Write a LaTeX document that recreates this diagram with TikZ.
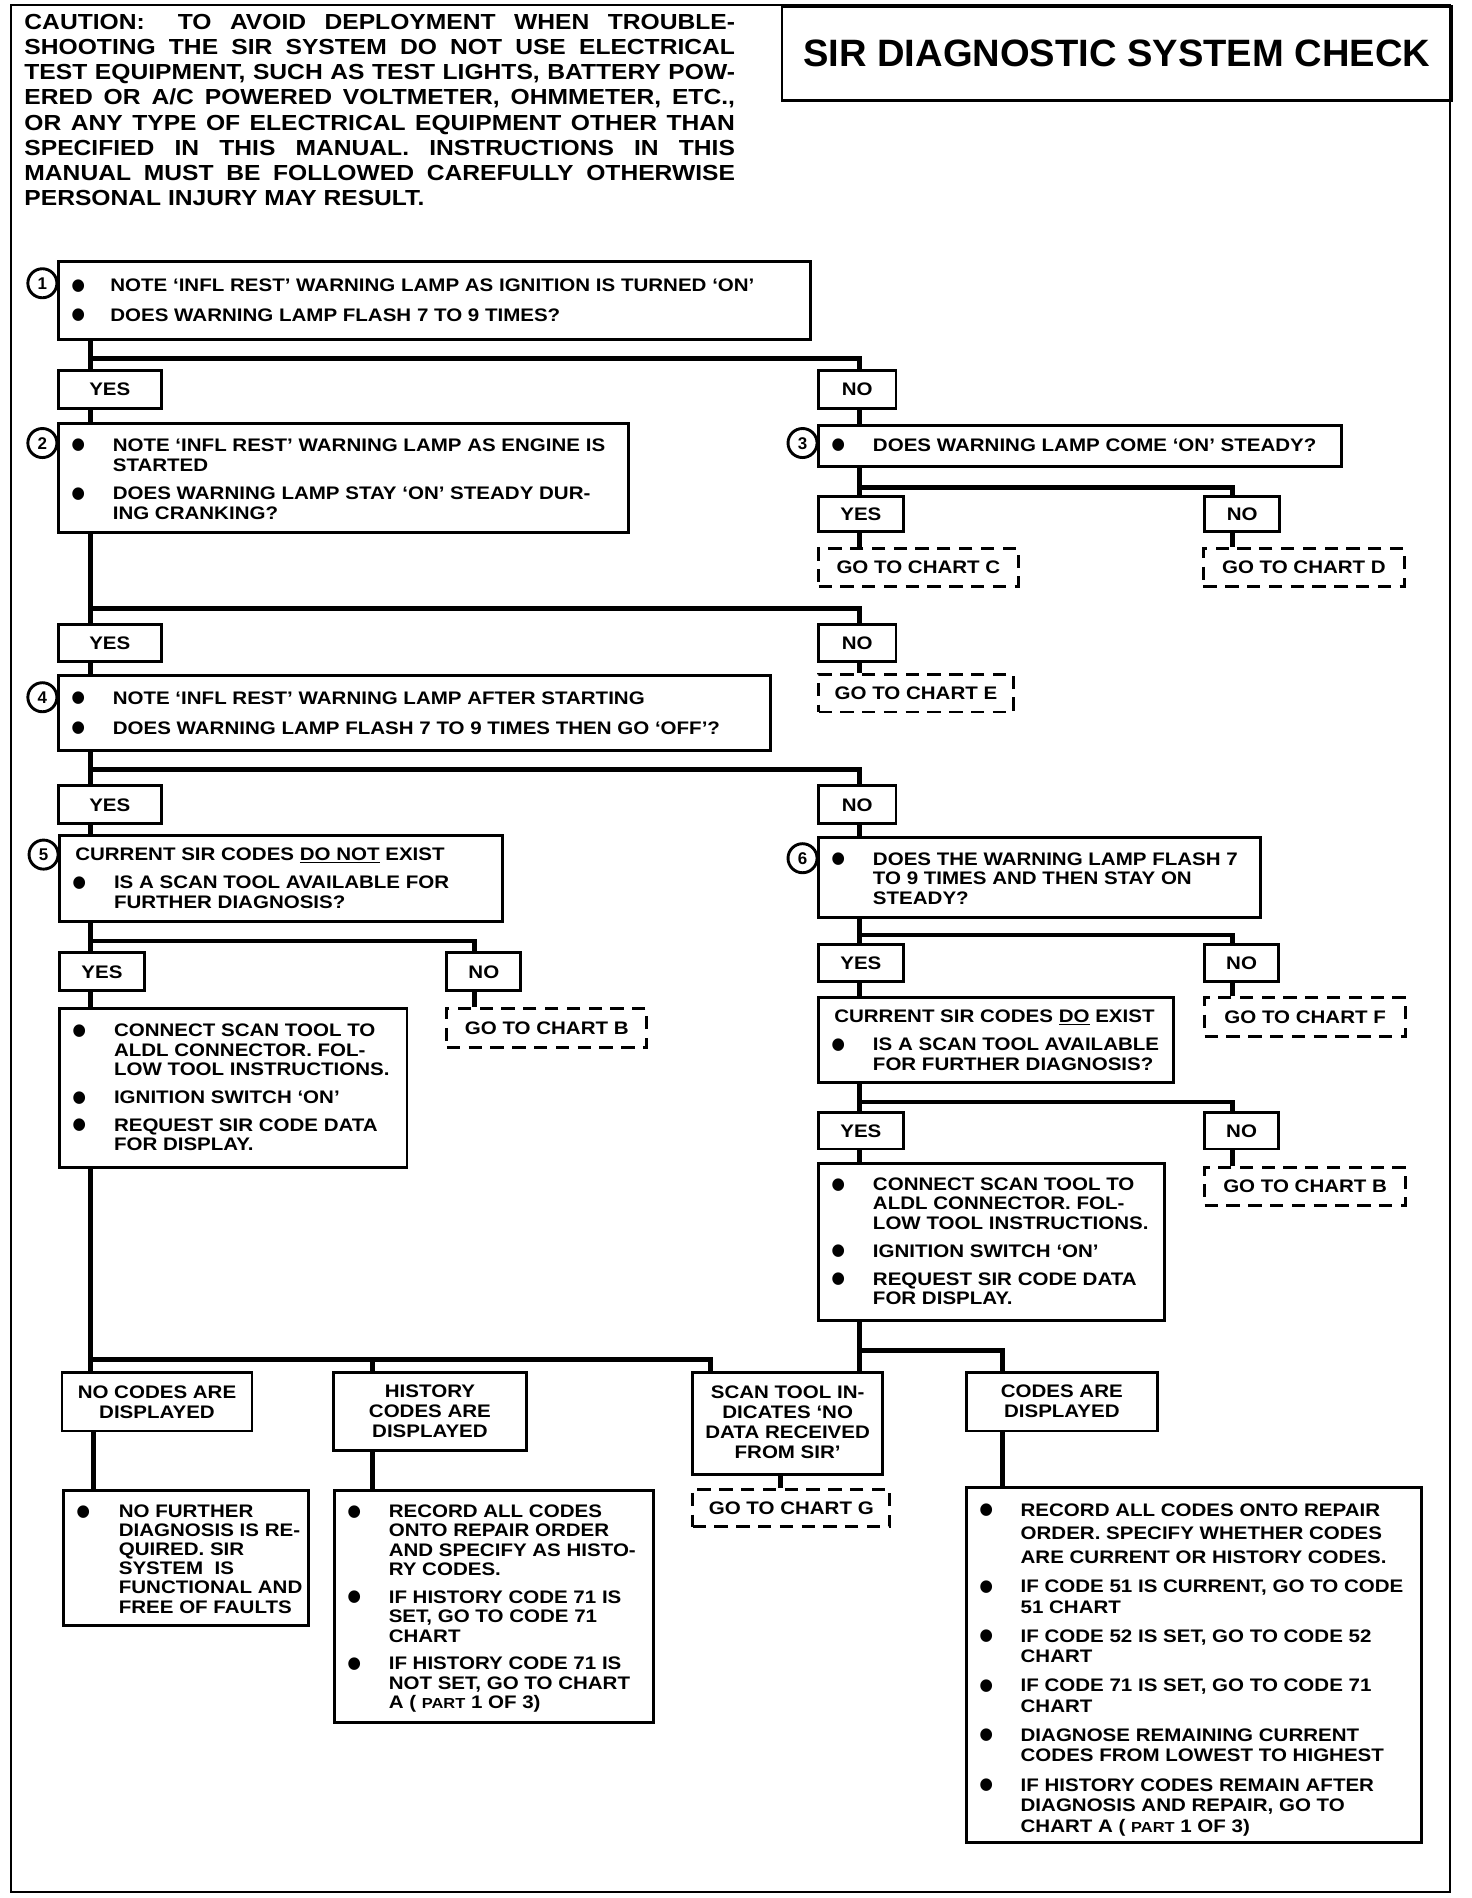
\documentclass[tikz,border=0pt]{standalone}
\usepackage{fontspec}
\newfontfamily\bxf{Liberation Sans}[FakeStretch=1.13,Ligatures=TeX]
\newfontfamily\ttlf{Liberation Sans}[Ligatures=TeX]
\usetikzlibrary{calc}
\newcommand\bxfont{\bxf\bfseries\fontsize{15}{16.5}\selectfont}
\newcommand\cautfont{\bxf\bfseries\fontsize{18}{20.7}\selectfont}
\newcommand\numfont{\ttlf\bfseries\fontsize{14}{14}\selectfont}
\newcommand\ttlfont{\ttlf\bfseries\fontsize{31.5}{34}\selectfont}
\newlength\tind \setlength\tind{45pt}
\newlength\bind \setlength\bind{11pt}
\newlength\igap \setlength\igap{7pt}
\newcommand\bul{\raisebox{-7.1pt}[0pt][0pt]{\scalebox{2.0}[2.4]{\textbullet}}}
\newcommand\bi[1]{\par\hangindent=\tind\hangafter=1\noindent\makebox[\tind][l]{\hspace{\bind}\bul\rule{0pt}{12pt}}#1\par\vspace{\igap}}
\newcommand\hd[1]{\par\noindent\hspace{13pt}\rule{0pt}{12pt}#1\par\vspace{\igap}}
\newcommand\tb[4]{\makebox[#1pt][l]{\parbox[c][#2pt][t]{1000pt}{\bxfont\vspace*{\dimexpr#3pt-12pt\relax}#4}}}
\newcommand\cb[4]{\parbox[c][#2pt][t]{#1pt}{\bxfont\centering\vspace*{\dimexpr#3pt-12pt\relax}\rule{0pt}{12pt}#4\par}}
\newcommand\partsc[1]{{\fontsize{12}{12}\selectfont #1}}
\tikzset{
  qbox/.style={draw, line width=2.4pt, inner sep=0pt, anchor=north west},
  lab/.style={draw, line width=2.4pt, inner sep=0pt, anchor=north west, font=\bxfont, text height=10.7pt, text depth=0pt},
  dbox/.style={lab, dash pattern=on 11pt off 7pt},
  conn/.style={line width=4pt},
  numc/.style={draw, circle, line width=2.4pt, minimum size=24pt, inner sep=0pt, font=\numfont, text height=10pt, text depth=0pt},
}
\begin{document}
\begin{tikzpicture}[x=1pt,y=-1pt]
\useasboundingbox (0,0) rectangle (1216,1568);
% frame
\draw[line width=2.2pt] (9,4) rectangle (1198,1563);
\node[draw, line width=2.2pt, anchor=north west, minimum width=553pt, minimum height=78pt, inner sep=0pt, font=\ttlfont, text height=22.5pt, text depth=0pt] (title) at (645,4) {SIR DIAGNOSTIC SYSTEM CHECK};
% caution
\node[anchor=north west, inner sep=0pt] (caution) at (20,5) {\parbox[t]{600pt}{\cautfont\vspace*{5.4pt}\rule{0pt}{14pt}%
\makebox[587pt][s]{CAUTION:\hspace{12pt} TO AVOID DEPLOYMENT WHEN TROUBLE-}\\
\makebox[587pt][s]{SHOOTING THE SIR SYSTEM DO NOT USE ELECTRICAL}\\
\makebox[587pt][s]{TEST EQUIPMENT, SUCH AS TEST LIGHTS, BATTERY POW-}\\
\makebox[587pt][s]{ERED OR A/C POWERED VOLTMETER, OHMMETER, ETC.,}\\
\makebox[587pt][s]{OR ANY TYPE OF ELECTRICAL EQUIPMENT OTHER THAN}\\
\makebox[587pt][s]{SPECIFIED IN THIS MANUAL. INSTRUCTIONS IN THIS}\\
\makebox[587pt][s]{MANUAL MUST BE FOLLOWED CAREFULLY OTHERWISE}\\
PERSONAL INJURY MAY RESULT.}};

% question boxes
\node[qbox] (b1) at (47,215) {\tb{621}{64}{25}{\setlength\tind{43pt}\setlength\igap{7.5pt}\bi{NOTE `INFL REST' WARNING LAMP AS IGNITION IS TURNED `ON'}\bi{DOES WARNING LAMP FLASH 7 TO 9 TIMES?}}};
\node[numc] (c1) at (35,234) {1};
\node[qbox] (b2) at (47,349) {\tb{471}{90}{22.5}{\bi{NOTE `INFL REST' WARNING LAMP AS ENGINE IS\\STARTED}\bi{DOES WARNING LAMP STAY `ON' STEADY DUR-\\ING CRANKING?}}};
\node[numc] (c2) at (35,366) {2};
\node[qbox] (b3) at (675,350) {\tb{432}{34}{21.5}{\bi{DOES WARNING LAMP COME `ON' STEADY?}}};
\node[numc] (c3) at (663,366) {3};
\node[qbox] (b4) at (47,557) {\tb{588}{62}{23.4}{\setlength\igap{8.5pt}\bi{NOTE `INFL REST' WARNING LAMP AFTER STARTING}\bi{DOES WARNING LAMP FLASH 7 TO 9 TIMES THEN GO `OFF'?}}};
\node[numc] (c4) at (35,576) {4};
\node[qbox] (b5) at (48,689) {\tb{366}{71}{20.4}{\hd{CURRENT SIR CODES \underline{DO NOT} EXIST}\bi{IS A SCAN TOOL AVAILABLE FOR\\FURTHER DIAGNOSIS?}}};
\node[numc] (c5) at (36,706) {5};
\node[qbox] (b6) at (675,691) {\tb{365}{66}{22.4}{\bi{DOES THE WARNING LAMP FLASH 7\\TO 9 TIMES AND THEN STAY ON\\STEADY?}}};
\node[numc] (c6) at (663,709) {6};
\node[qbox] (b7) at (48,832) {\tb{287}{131}{23.4}{\setlength\baselineskip{16pt}\bi{CONNECT SCAN TOOL TO\\ALDL CONNECTOR. FOL-\\LOW TOOL INSTRUCTIONS.}\bi{IGNITION SWITCH `ON'}\bi{REQUEST SIR CODE DATA\\FOR DISPLAY.}}};
\node[qbox] (b8) at (675,823) {\tb{293}{70}{20.4}{\hd{CURRENT SIR CODES \underline{DO} EXIST}\bi{IS A SCAN TOOL AVAILABLE\\FOR FURTHER DIAGNOSIS?}}};
\node[qbox] (b9) at (675,960) {\tb{286}{130}{22.4}{\setlength\baselineskip{16pt}\bi{CONNECT SCAN TOOL TO\\ALDL CONNECTOR. FOL-\\LOW TOOL INSTRUCTIONS.}\bi{IGNITION SWITCH `ON'}\bi{REQUEST SIR CODE DATA\\FOR DISPLAY.}}};

% yes / no labels
\node[lab, minimum width=85pt, minimum height=31pt] (yes1) at (47,305) {YES};
\node[lab, minimum width=64pt, minimum height=31pt] (no1) at (675,305) {NO};
\node[lab, minimum width=85pt, minimum height=30pt] (yes2) at (47,515) {YES};
\node[lab, minimum width=64pt, minimum height=30pt] (no2) at (675,515) {NO};
\node[dbox, minimum width=161pt, minimum height=31pt] (gE) at (675,556) {GO TO CHART E};
\node[lab, minimum width=70pt, minimum height=29pt] (yes3) at (675,409) {YES};
\node[lab, minimum width=62pt, minimum height=29pt] (no3) at (994,409) {NO};
\node[dbox, minimum width=165pt, minimum height=31pt] (gC) at (675,452) {GO TO CHART C};
\node[dbox, minimum width=166pt, minimum height=31pt] (gD) at (993,452) {GO TO CHART D};
\node[lab, minimum width=85pt, minimum height=31pt] (yes4) at (47,648) {YES};
\node[lab, minimum width=64pt, minimum height=31pt] (no4) at (675,648) {NO};
\node[lab, minimum width=70pt, minimum height=31pt] (yes5) at (48,786) {YES};
\node[lab, minimum width=61pt, minimum height=31pt] (no5) at (368,786) {NO};
\node[dbox, minimum width=165pt, minimum height=32pt] (gB1) at (368,832) {GO TO CHART B};
\node[lab, minimum width=70pt, minimum height=31pt] (yes6) at (675,779) {YES};
\node[lab, minimum width=61pt, minimum height=31pt] (no6) at (994,779) {NO};
\node[dbox, minimum width=166pt, minimum height=32pt] (gF) at (994,823) {GO TO CHART F};
\node[lab, minimum width=70pt, minimum height=30pt] (yes8) at (675,918) {YES};
\node[lab, minimum width=61pt, minimum height=30pt] (no8) at (994,918) {NO};
\node[dbox, minimum width=166pt, minimum height=32pt] (gB2) at (994,963) {GO TO CHART B};

% result row
\node[qbox] (r1) at (50,1133) {\cb{157}{48}{21.4}{NO CODES ARE\\DISPLAYED}};
\node[qbox] (r2) at (274,1133) {\cb{160}{64}{20.4}{HISTORY\\CODES ARE\\DISPLAYED}};
\node[qbox] (r3) at (571,1133) {\cb{157}{84}{21.4}{SCAN TOOL IN-\\DICATES `NO\\DATA RECEIVED\\FROM SIR'}};
\node[qbox] (r4) at (797,1133) {\cb{158}{48}{20.4}{CODES ARE\\DISPLAYED}};
\node[dbox, minimum width=163pt, minimum height=31pt] (gG) at (571,1229) {GO TO CHART G};

\node[qbox] (s1) at (51,1230) {\tb{203}{112}{22.4}{\setlength\tind{46pt}\setlength\baselineskip{15.8pt}\bi{NO FURTHER\\DIAGNOSIS IS RE-\\QUIRED. SIR\\SYSTEM\ \ IS\\FUNCTIONAL AND\\FREE OF FAULTS}}};
\node[qbox] (s2) at (275,1230) {\tb{264}{192}{22.4}{\setlength\baselineskip{16pt}\bi{RECORD ALL CODES\\ONTO REPAIR ORDER\\AND SPECIFY AS HISTO-\\RY CODES.}\bi{IF HISTORY CODE 71 IS\\SET, GO TO CODE 71\\CHART}\setlength\igap{8.5pt}\bi{IF HISTORY CODE 71 IS\\NOT SET, GO TO CHART\\A ( \partsc{PART} 1 OF 3)}}};
\node[qbox] (s4) at (797,1228) {\tb{376}{293}{23.4}{{\setlength\baselineskip{19.5pt}\bi{RECORD ALL CODES ONTO REPAIR\\ORDER. SPECIFY WHETHER CODES\\ARE CURRENT OR HISTORY CODES.}}\setlength\baselineskip{17pt}\bi{IF CODE 51 IS CURRENT, GO TO CODE\\51 CHART}\bi{IF CODE 52 IS SET, GO TO CODE 52\\CHART}\bi{IF CODE 71 IS SET, GO TO CODE 71\\CHART}\bi{DIAGNOSE REMAINING CURRENT\\CODES FROM LOWEST TO HIGHEST}\bi{IF HISTORY CODES REMAIN AFTER\\DIAGNOSIS AND REPAIR, GO TO\\CHART A ( \partsc{PART} 1 OF 3)}}};

% connectors
\draw[conn] ([xshift=28pt]b1.south west) -- ([xshift=28pt]yes1.north west);
\draw[conn] ([xshift=28pt]b1.south west) ++(0,15) -| ([xshift=35pt]no1.north west);
\draw[conn] ([xshift=28pt]yes1.south west) -- ([xshift=28pt]b2.north west);
\draw[conn] ([xshift=35pt]no1.south west) -- ([xshift=35pt]b3.north west);

\draw[conn] ([xshift=28pt]b2.south west) -- ([xshift=28pt]yes2.north west);
\draw[conn] ([xshift=28pt]b2.south west) ++(0,61) -| ([xshift=35pt]no2.north west);
\draw[conn] ([xshift=35pt]no2.south west) -- ([xshift=35pt]gE.north west);
\draw[conn] ([xshift=28pt]yes2.south west) -- ([xshift=28pt]b4.north west);

\draw[conn] ([xshift=35pt]b3.south west) -- ([xshift=35pt]yes3.north west);
\draw[conn] ([xshift=35pt]b3.south west) ++(0,16) -| ([xshift=24pt]no3.north west);
\draw[conn] ([xshift=35pt]yes3.south west) -- ([xshift=35pt]gC.north west);
\draw[conn] ([xshift=24pt]no3.south west) -- ([xshift=25pt]gD.north west);

\draw[conn] ([xshift=28pt]b4.south west) -- ([xshift=28pt]yes4.north west);
\draw[conn] ([xshift=28pt]b4.south west) ++(0,14) -| ([xshift=35pt]no4.north west);
\draw[conn] ([xshift=28pt]yes4.south west) -- ([xshift=27pt]b5.north west);
\draw[conn] ([xshift=35pt]no4.south west) -- ([xshift=35pt]b6.north west);

\draw[conn] ([xshift=27pt]b5.south west) -- ([xshift=27pt]yes5.north west);
\draw[conn] ([xshift=27pt]b5.south west) ++(0,15) -| ([xshift=24pt]no5.north west);
\draw[conn] ([xshift=24pt]no5.south west) -- ([xshift=24pt]gB1.north west);
\draw[conn] ([xshift=27pt]yes5.south west) -- ([xshift=27pt]b7.north west);

\draw[conn] ([xshift=35pt]b6.south west) -- ([xshift=35pt]yes6.north west);
\draw[conn] ([xshift=35pt]b6.south west) ++(0,13) -| ([xshift=24pt]no6.north west);
\draw[conn] ([xshift=24pt]no6.south west) -- ([xshift=24pt]gF.north west);
\draw[conn] ([xshift=35pt]yes6.south west) -- ([xshift=35pt]b8.north west);

\draw[conn] ([xshift=35pt]b8.south west) -- ([xshift=35pt]yes8.north west);
\draw[conn] ([xshift=35pt]b8.south west) ++(0,15) -| ([xshift=24pt]no8.north west);
\draw[conn] ([xshift=24pt]no8.south west) -- ([xshift=24pt]gB2.north west);
\draw[conn] ([xshift=35pt]yes8.south west) -- ([xshift=35pt]b9.north west);

\draw[conn] ([xshift=35pt]b9.south west) -- ([xshift=139pt]r3.north west);
\draw[conn] ([xshift=35pt]b9.south west) ++(0,23) -| ([xshift=31pt]r4.north west);

\draw[conn] ([xshift=27pt]b7.south west) -- ([xshift=25pt]r1.north west);
\draw[conn] ([xshift=27pt]b7.south west) ++(0,158) coordinate (busL) -| ([xshift=16pt]r3.north west);
\path ([xshift=34pt]r2.north west) coordinate (r2in);
\draw[conn] (r2in) -- (r2in |- busL);

\draw[conn] ([xshift=27pt]r1.south west) -- ([xshift=26pt]s1.north west);
\draw[conn] ([xshift=34pt]r2.south west) -- ([xshift=33pt]s2.north west);
\draw[conn] ([xshift=74pt]r3.south west) -- ([xshift=74pt]gG.north west);
\draw[conn] ([xshift=31pt]r4.south west) -- ([xshift=31pt]s4.north west);
\end{tikzpicture}
\end{document}
